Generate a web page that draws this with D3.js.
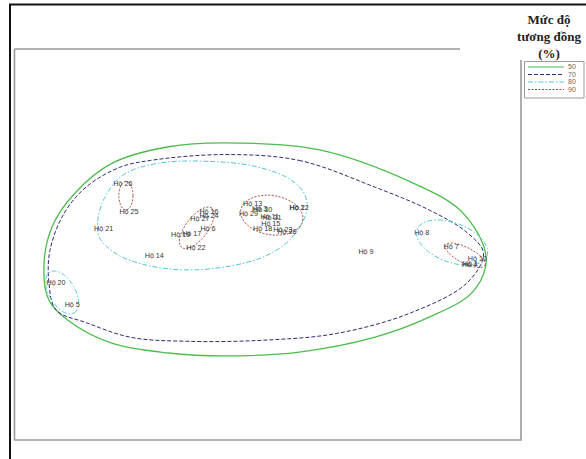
<!DOCTYPE html>
<html>
<head>
<meta charset="utf-8">
<script src="https://cdn.jsdelivr.net/npm/d3@7"></script>
<style>
  html, body { margin: 0; padding: 0; background: #fff; }
  svg { display: block; }
</style>
</head>
<body>
<svg id="chart" width="586" height="459"></svg>
<script>
// nMDS ordination of households: label positions (ordination units)
const households = ["Hộ 26","Hộ 25","Hộ 21","Hộ 14","Hộ 16","Hộ 24","Hộ 27","Hộ 6","Hộ 19","Hộ 17","Hộ 22",
  "Hộ 13","Hộ 3","Hộ 30","Hộ 29","Hộ 11","Hộ 31","Hộ 15","Hộ 18","Hộ 23","Hộ 28","Hộ 2","Hộ 12",
  "Hộ 8","Hộ 9","Hộ 7","Hộ 10","Hộ 1","Hộ 4","Hộ 20","Hộ 5"];
const dim1 = [-1.43,-1.37,-1.62,-1.12,-0.58,-0.58,-0.67,-0.59,-0.86,-0.75,-0.71,
  -0.15,-0.08,-0.05,-0.19,0.02,0.04,0.03,-0.05,0.15,0.19,0.29,0.31,
  1.52,0.97,1.81,2.07,2.00,1.99,-2.09,-1.93];
const dim2 = [0.62,0.34,0.16,-0.11,0.34,0.30,0.27,0.16,0.10,0.11,-0.03,
  0.42,0.37,0.36,0.32,0.29,0.28,0.22,0.16,0.15,0.13,0.38,0.38,
  0.12,-0.07,-0.02,-0.14,-0.19,-0.20,-0.39,-0.61];

// Similarity levels (%) shown in the legend
const levels = [50, 70, 80, 90];

// Cluster outlines at each similarity level (ordination units)
const outline50 = [[-0.43,1.04],[0.50,0.97],[1.41,0.64],[1.90,0.35],[2.13,-0.01],[2.15,-0.23],[2.01,-0.50],
  [1.60,-0.74],[1.05,-0.95],[0.31,-1.10],[-0.43,-1.14],[-0.98,-1.11],[-1.54,-1.01],[-1.98,-0.77],
  [-2.16,-0.57],[-2.21,-0.23],[-2.13,0.18],[-1.90,0.53],[-1.54,0.83],[-0.98,1.00]];
const outline70 = [[-0.43,0.92],[0.31,0.86],[1.05,0.59],[1.60,0.35],[1.97,0.12],[2.13,-0.09],[1.97,-0.39],
  [1.41,-0.70],[0.68,-0.91],[-0.06,-0.98],[-0.80,-0.99],[-1.35,-0.95],[-1.79,-0.80],[-2.09,-0.67],
  [-2.16,-0.39],[-2.15,-0.06],[-2.01,0.32],[-1.79,0.59],[-1.46,0.79],[-1.16,0.86]];
const outline80 = [[-1.09,0.83],[-0.57,0.85],[-0.13,0.80],[0.20,0.68],[0.35,0.54],[0.39,0.38],[0.34,0.22],
  [0.19,0.02],[-0.05,-0.13],[-0.37,-0.22],[-0.77,-0.26],[-1.16,-0.22],[-1.49,-0.10],[-1.66,0.07],
  [-1.68,0.23],[-1.61,0.48],[-1.43,0.71]];
// Smaller clusters as ellipses: [centre x, centre y, semi-axis a, semi-axis b, rotation deg]
const ellipses80 = [[-2.03,-0.49,0.24,0.13,-61],[1.82,0.02,0.37,0.20,-22]];
const ellipses90 = [[-1.40,0.50,0.07,0.145,0],[-0.70,0.17,0.25,0.11,54],[0.04,0.30,0.31,0.20,-10],[1.95,-0.11,0.22,0.08,-28]];

const styles = {
  50: { stroke: "#4cbd4c", dash: null,        width: 1.3 },
  70: { stroke: "#2d2d70", dash: "4,2",       width: 1 },
  80: { stroke: "#52c6d8", dash: "5,2,1.5,2", width: 1 },
  90: { stroke: "#a84848", dash: "2,1.5",     width: 1 }
};

const svg = d3.select("#chart");

// page frame
svg.append("path").attr("d", "M10,459 V4.5 H586").attr("fill", "none")
  .attr("stroke", "#111").attr("stroke-width", 2);

// plot area
const plot = { left: 14.5, right: 521, top: 49, bottom: 440 };
const x = d3.scaleLinear().domain([-2.5, 2.5]).range([plot.left, plot.right]);
const y = d3.scaleLinear().domain([-2, 2]).range([plot.bottom, plot.top]);

const frame = svg.append("g").attr("fill", "none").attr("stroke", "#9a9a9a").attr("stroke-width", 1.6);
frame.append("path").attr("d", `M${plot.left},${plot.top} V${plot.bottom} H${plot.right} V60`);
frame.append("path").attr("d", `M${plot.left},${plot.top} H460`);

const closed = d3.line().x(d => x(d[0])).y(d => y(d[1])).curve(d3.curveCatmullRomClosed.alpha(0.5));
const ring = d3.line().x(d => x(d[0])).y(d => y(d[1])).curve(d3.curveLinearClosed);

function ellipsePoints([cx, cy, a, b, deg]) {
  const r = deg * Math.PI / 180;
  return d3.range(0, 2 * Math.PI, Math.PI / 40).map(t => {
    const ex = a * Math.cos(t), ey = b * Math.sin(t);
    return [cx + ex * Math.cos(r) - ey * Math.sin(r), cy + ex * Math.sin(r) + ey * Math.cos(r)];
  });
}

function drawPath(d, lvl) {
  const s = styles[lvl];
  svg.append("path").attr("d", d).attr("fill", "none")
    .attr("stroke", s.stroke).attr("stroke-width", s.width)
    .attr("stroke-dasharray", s.dash);
}

drawPath(closed(outline50), 50);
drawPath(closed(outline70), 70);
drawPath(closed(outline80), 80);
ellipses80.forEach(e => drawPath(ring(ellipsePoints(e)), 80));
ellipses90.forEach(e => drawPath(ring(ellipsePoints(e)), 90));

// household labels
svg.append("g").selectAll("text").data(households).join("text")
  .attr("x", (d, i) => x(dim1[i]))
  .attr("y", (d, i) => y(dim2[i]))
  .attr("dy", "0.35em")
  .attr("text-anchor", "middle")
  .attr("font-family", "Liberation Sans, Arial, sans-serif")
  .attr("font-size", 7.2)
  .attr("fill", "#333")
  .text(d => d);

// legend
const title = ["Mức độ", "tương đồng", "(%)"];
svg.append("g").selectAll("text").data(title).join("text")
  .attr("x", 549).attr("y", (d, i) => 24 + i * 17)
  .attr("text-anchor", "middle")
  .attr("font-family", "Liberation Serif, Times New Roman, serif")
  .attr("font-weight", "bold").attr("font-size", 13)
  .attr("fill", "#222")
  .text(d => d);

const lg = svg.append("g");
lg.append("path").attr("d", "M524.5,98 V61.5 H584 V98 Z").attr("fill", "#fff")
  .attr("stroke", "#9a9a9a").attr("stroke-width", 1);
levels.forEach((lvl, i) => {
  const yy = 67 + i * 7.5;
  const s = styles[lvl];
  lg.append("line").attr("x1", 528).attr("x2", 564).attr("y1", yy).attr("y2", yy)
    .attr("stroke", s.stroke).attr("stroke-width", 1).attr("stroke-dasharray", s.dash);
  lg.append("text").attr("x", 568).attr("y", yy).attr("dy", "0.35em")
    .attr("font-family", "Liberation Sans, Arial, sans-serif").attr("font-size", 7)
    .attr("fill", "#666").text(lvl);
});
</script>
</body>
</html>
